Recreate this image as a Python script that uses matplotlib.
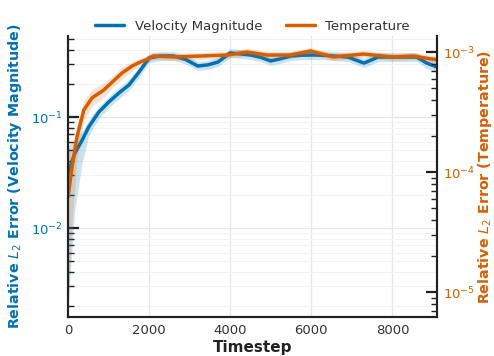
import numpy as np
import matplotlib
matplotlib.use("Agg")
import matplotlib.pyplot as plt

# velocity magnitude error (left axis)
vel_t = [0, 170, 350, 510, 760, 1000, 1250, 1500, 1750, 2000, 2270, 2600, 2900, 3200,
         3450, 3700, 4000, 4250, 4500, 4750, 5000, 5250, 5500, 5750, 6000, 6300, 6550,
         6900, 7300, 7650, 8100, 8600, 8850, 9100]
vel_err = [0.0313, 0.0474, 0.062, 0.0813, 0.111, 0.136, 0.164, 0.194, 0.254, 0.34, 0.355,
           0.355, 0.33, 0.288, 0.295, 0.313, 0.378, 0.37, 0.362, 0.345, 0.32, 0.335, 0.355,
           0.36, 0.362, 0.36, 0.355, 0.347, 0.306, 0.347, 0.347, 0.347, 0.306, 0.282]
# band spread in decades below / above the mean
vel_lo = [1.2, 0.5, 0.2, 0.08, 0.06, 0.05, 0.05, 0.05, 0.05, 0.04, 0.04, 0.04, 0.04, 0.04,
          0.04, 0.04, 0.04, 0.04, 0.04, 0.04, 0.04, 0.04, 0.04, 0.04, 0.04, 0.04, 0.04,
          0.04, 0.04, 0.04, 0.04, 0.04, 0.05, 0.05]
vel_hi = [0.25, 0.12, 0.08, 0.06, 0.05, 0.05, 0.05, 0.05, 0.04, 0.04, 0.04, 0.04, 0.04, 0.04,
          0.04, 0.04, 0.04, 0.04, 0.04, 0.04, 0.04, 0.04, 0.04, 0.04, 0.04, 0.04, 0.04,
          0.04, 0.04, 0.04, 0.04, 0.04, 0.04, 0.04]

# temperature error (right axis)
tmp_t = [0, 100, 220, 390, 590, 880, 1090, 1330, 1580, 1780, 1910, 2100, 2600, 3260,
         3930, 4420, 4910, 5480, 5980, 6540, 7280, 8020, 8520, 9110]
tmp_err = [6.19e-5, 1.10e-4, 1.96e-4, 3.29e-4, 4.14e-4, 4.82e-4, 5.62e-4, 6.68e-4,
           7.64e-4, 8.25e-4, 8.58e-4, 9.26e-4, 9.09e-4, 9.26e-4, 9.44e-4, 1.0e-3,
           9.44e-4, 9.44e-4, 1.02e-3, 9.09e-4, 9.62e-4, 9.09e-4, 9.26e-4, 8.58e-4]
tmp_lo = [0.95, 0.45, 0.2, 0.08, 0.07, 0.06, 0.05, 0.05, 0.04, 0.03, 0.03, 0.03, 0.03, 0.03,
          0.03, 0.03, 0.03, 0.03, 0.03, 0.03, 0.03, 0.03, 0.03, 0.03]
tmp_hi = [0.4, 0.15, 0.1, 0.08, 0.07, 0.06, 0.05, 0.05, 0.04, 0.03, 0.03, 0.03, 0.03, 0.03,
          0.03, 0.03, 0.03, 0.03, 0.03, 0.03, 0.03, 0.03, 0.03, 0.03]

blue = "#0072B2"
orange = "#D55E00"
spine_c = "#222222"

fig = plt.figure(figsize=(4.94, 3.56), dpi=100)
ax = fig.add_axes([0.1377, 0.1096, 0.7469, 0.7893])
ax2 = ax.twinx()

# bands
v = np.array(vel_err)
ax.fill_between(vel_t, v / 10 ** np.array(vel_lo), v * 10 ** np.array(vel_hi),
                color=blue, alpha=0.2, lw=0)
tt = np.array(tmp_err)
ax2.fill_between(tmp_t, tt / 10 ** np.array(tmp_lo), tt * 10 ** np.array(tmp_hi),
                 color=orange, alpha=0.18, lw=0)

l1, = ax.plot(vel_t, vel_err, color=blue, lw=2.5, label="Velocity Magnitude",
              solid_capstyle="round", solid_joinstyle="round")
l2, = ax2.plot(tmp_t, tmp_err, color=orange, lw=2.5, label="Temperature",
               solid_capstyle="round", solid_joinstyle="round")

ax.set_yscale("log")
ax2.set_yscale("log")
ax.set_xlim(0, 9100)
ax.set_ylim(1.58e-3, 0.537)
ax2.set_ylim(6.2e-6, 1.36e-3)
ax.set_xticks([0, 2000, 4000, 6000, 8000])

# grid
ax.set_axisbelow(True)
ax.grid(which="major", color="#e6e6e6", lw=0.9)
ax.grid(which="minor", axis="y", color="#f2f2f2", lw=0.7)

for a in (ax, ax2):
    a.spines["top"].set_visible(False)
    for s in ("left", "right", "bottom"):
        a.spines[s].set_color(spine_c)
        a.spines[s].set_linewidth(1.5)

ax.tick_params(axis="x", length=0, labelsize=9.5, labelcolor="#333333", pad=5)
ax.tick_params(axis="y", which="major", direction="in", length=8, width=1.6,
               color=spine_c, labelsize=9.5, labelcolor=blue, pad=4)
ax.tick_params(axis="y", which="minor", direction="in", length=4.5, width=1.0, color=spine_c)
ax2.tick_params(axis="y", which="major", direction="in", length=8, width=1.6,
                color=spine_c, labelsize=9.5, labelcolor=orange, pad=4)
ax2.tick_params(axis="y", which="minor", direction="in", length=4.5, width=1.0, color=spine_c)

ax.set_xlabel("Timestep", fontsize=11, fontweight="bold", color="#222222", labelpad=2)
ax.set_ylabel("Relative $L_2$ Error (Velocity Magnitude)", fontsize=10.3,
              fontweight="bold", color=blue, labelpad=5)
ax2.set_ylabel("Relative $L_2$ Error (Temperature)", fontsize=10.3,
               fontweight="bold", color=orange, labelpad=1)

ax.legend(handles=[l1, l2], loc="center", bbox_to_anchor=(0.5, 1.035), ncol=2,
          frameon=False, fontsize=9.5, handlelength=2.2, columnspacing=1.8,
          labelcolor="#333333")

fig.savefig("out.png", dpi=100)
